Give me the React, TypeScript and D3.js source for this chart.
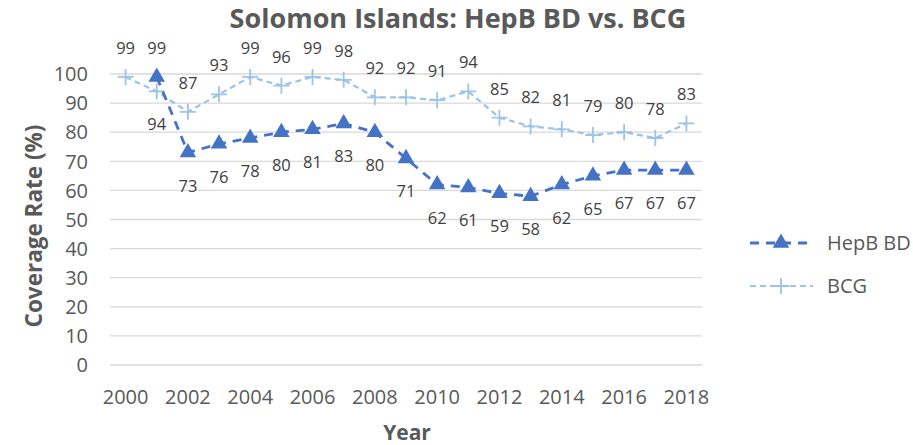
import React from "react";
import * as d3 from "d3";

const years = [2000, 2001, 2002, 2003, 2004, 2005, 2006, 2007, 2008, 2009, 2010, 2011, 2012, 2013, 2014, 2015, 2016, 2017, 2018];
const hepbBD: (number | null)[] = [null, 99, 73, 76, 78, 80, 81, 83, 80, 71, 62, 61, 59, 58, 62, 65, 67, 67, 67];
const bcg: (number | null)[] = [99, 94, 87, 93, 99, 96, 99, 98, 92, 92, 91, 94, 85, 82, 81, 79, 80, 78, 83];
const yTicks = [0, 10, 20, 30, 40, 50, 60, 70, 80, 90, 100];
const xTickYears = [2000, 2002, 2004, 2006, 2008, 2010, 2012, 2014, 2016, 2018];

const W = 913;
const H = 445;
const FONT = "'Open Sans', sans-serif";
const TEXT = "#595959";
const HEPB_COLOR = "#4472C4";
const BCG_COLOR = "#9DC3E6";

const x = d3.scaleBand<number>().domain(years).range([110, 702]).padding(0);
const cx = (yr: number) => (x(yr) ?? 0) + x.bandwidth() / 2;
const y = d3.scaleLinear().domain([0, 100]).range([365, 74]);

const triangle = d3.symbol(d3.symbolTriangle, 118);
const crossPath = (s: number) => `M${-s},0H${s}M0,${-s}V${s}`;

type Pt = { year: number; value: number; other: number | null };

const makePoints = (vals: (number | null)[], others: (number | null)[]): Pt[] =>
  years
    .map((yr, i) => ({ year: yr, value: vals[i] as number, other: others[i] }))
    .filter((d) => d.value != null);

const line = d3
  .line<Pt>()
  .x((d) => cx(d.year))
  .y((d) => y(d.value));

const App = () => {
  const hepPts = makePoints(hepbBD, bcg);
  const bcgPts = makePoints(bcg, hepbBD);
  // label goes above when this series is the higher one at that year
  const labelY = (d: Pt) => {
    const above = d.other == null || d.value >= d.other;
    return above ? y(d.value) - 29 : y(d.value) + 33;
  };

  return (
    <svg
      width={W}
      height={H}
      style={{ position: "absolute", left: 0, top: 0, background: "#fff" }}
      fontFamily={FONT}
    >
      <text x={458} y={28} textAnchor="middle" fontSize={27} fontWeight={700} fill={TEXT}>
        Solomon Islands: HepB BD vs. BCG
      </text>

      {/* grid + y ticks */}
      {yTicks.map((t) => (
        <g key={t}>
          <line x1={110} x2={702} y1={y(t)} y2={y(t)} stroke="#D9D9D9" strokeWidth={1.3} />
          <text x={88} y={y(t)} dy="0.36em" textAnchor="end" fontSize={20} fill={TEXT}>
            {t}
          </text>
        </g>
      ))}

      {xTickYears.map((yr) => (
        <text key={yr} x={cx(yr)} y={404} textAnchor="middle" fontSize={20} fill={TEXT}>
          {yr}
        </text>
      ))}

      <text x={407} y={440} textAnchor="middle" fontSize={21} fontWeight={700} fill={TEXT}>
        Year
      </text>
      <text
        transform="translate(42,226) rotate(-90)"
        textAnchor="middle"
        fontSize={22.5}
        fontWeight={700}
        fill={TEXT}
      >
        Coverage Rate (%)
      </text>

      {/* BCG */}
      <path d={line(bcgPts) ?? ""} fill="none" stroke={BCG_COLOR} strokeWidth={2.2} strokeDasharray="6 4" />
      {bcgPts.map((d) => (
        <path
          key={d.year}
          d={crossPath(8)}
          transform={`translate(${cx(d.year)},${y(d.value)})`}
          stroke={BCG_COLOR}
          strokeWidth={1.8}
          fill="none"
        />
      ))}

      {/* HepB BD */}
      <path d={line(hepPts) ?? ""} fill="none" stroke={HEPB_COLOR} strokeWidth={2.8} strokeDasharray="9 7" />
      {hepPts.map((d) => (
        <path
          key={d.year}
          d={triangle() ?? ""}
          transform={`translate(${cx(d.year)},${y(d.value)})`}
          fill={HEPB_COLOR}
        />
      ))}

      {/* data labels */}
      {[...bcgPts, ...hepPts].map((d, i) => (
        <text
          key={i}
          x={cx(d.year)}
          y={labelY(d)}
          dy="0.36em"
          textAnchor="middle"
          fontSize={16.5}
          fill="#404040"
        >
          {d.value}
        </text>
      ))}

      {/* legend */}
      <g transform="translate(750,243)">
        <line x1={0} x2={63} y1={0} y2={0} stroke={HEPB_COLOR} strokeWidth={2.8} strokeDasharray="9 7" />
        <path d={triangle() ?? ""} transform="translate(31,0)" fill={HEPB_COLOR} />
        <text x={77} y={0} dy="0.36em" fontSize={20} fill={TEXT}>
          HepB BD
        </text>
      </g>
      <g transform="translate(750,286)">
        <line x1={0} x2={63} y1={0} y2={0} stroke={BCG_COLOR} strokeWidth={2.2} strokeDasharray="6 4" />
        <path d={crossPath(8)} transform="translate(31,0)" stroke={BCG_COLOR} strokeWidth={1.8} />
        <text x={77} y={0} dy="0.36em" fontSize={20} fill={TEXT}>
          BCG
        </text>
      </g>
    </svg>
  );
};

export default App;
